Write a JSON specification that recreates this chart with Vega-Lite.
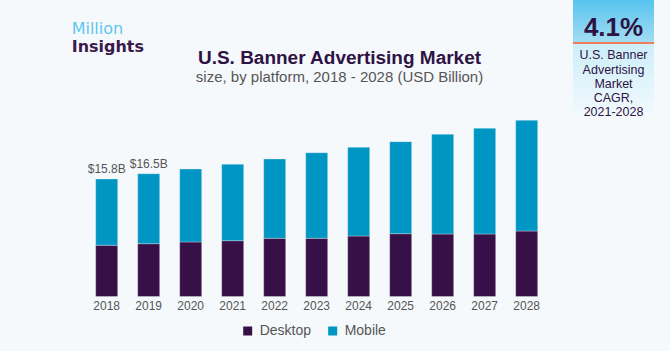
{
  "$schema": "https://vega.github.io/schema/vega-lite/v6.json",
  "background": "#f5f9fc",
  "autosize": {"type": "pad"},
  "padding": {"left": 71.7, "top": 0, "right": 16, "bottom": 14},
  "bounds": "flush",
  "spacing": 25.3,
  "title": {
    "text": "Million",
    "subtitle": "Insights",
    "anchor": "start",
    "frame": "group",
    "orient": "top",
    "offset": -55,
    "dx": -14,
    "font": "DejaVu Sans",
    "fontSize": 16,
    "fontWeight": "normal",
    "color": "#5ec6ee",
    "subtitleFont": "DejaVu Sans",
    "subtitleFontSize": 16,
    "subtitleFontWeight": "bold",
    "subtitleColor": "#3b1a4c",
    "subtitlePadding": 2
  },
  "datasets": {
    "bars": [
      {"year": "2018", "platform": "Desktop", "value": 6.88},
      {"year": "2018", "platform": "Mobile", "value": 8.92},
      {"year": "2019", "platform": "Desktop", "value": 7.10},
      {"year": "2019", "platform": "Mobile", "value": 9.40},
      {"year": "2020", "platform": "Desktop", "value": 7.33},
      {"year": "2020", "platform": "Mobile", "value": 9.81},
      {"year": "2021", "platform": "Desktop", "value": 7.50},
      {"year": "2021", "platform": "Mobile", "value": 10.27},
      {"year": "2022", "platform": "Desktop", "value": 7.82},
      {"year": "2022", "platform": "Mobile", "value": 10.66},
      {"year": "2023", "platform": "Desktop", "value": 7.82},
      {"year": "2023", "platform": "Mobile", "value": 11.51},
      {"year": "2024", "platform": "Desktop", "value": 8.13},
      {"year": "2024", "platform": "Mobile", "value": 11.92},
      {"year": "2025", "platform": "Desktop", "value": 8.44},
      {"year": "2025", "platform": "Mobile", "value": 12.37},
      {"year": "2026", "platform": "Desktop", "value": 8.40},
      {"year": "2026", "platform": "Mobile", "value": 13.40},
      {"year": "2027", "platform": "Desktop", "value": 8.40},
      {"year": "2027", "platform": "Mobile", "value": 14.21},
      {"year": "2028", "platform": "Desktop", "value": 8.80},
      {"year": "2028", "platform": "Mobile", "value": 14.88}
    ],
    "labels": [
      {"year": "2018", "total": 15.8, "label": "$15.8B"},
      {"year": "2019", "total": 16.5, "label": "$16.5B"}
    ],
    "box": [{"name": "cagr"}]
  },
  "hconcat": [
    {
      "width": 462,
      "height": 296.5,
      "title": {
        "text": "U.S. Banner Advertising Market",
        "subtitle": "size, by platform, 2018 - 2028 (USD Billion)",
        "anchor": "middle",
        "frame": "group",
        "offset": -85,
        "dx": 22.8,
        "font": "Liberation Sans",
        "fontSize": 19,
        "fontWeight": "bold",
        "color": "#2e1344",
        "subtitleFont": "Liberation Sans",
        "subtitleFontSize": 15,
        "subtitleColor": "#555555",
        "subtitlePadding": 2
      },
      "layer": [
        {
          "data": {"name": "bars"},
          "mark": {"type": "bar", "stroke": "#ffffff", "strokeOpacity": 0.3, "strokeWidth": 1},
          "encoding": {
            "x": {
              "field": "year",
              "type": "ordinal",
              "scale": {"paddingInner": 0.476, "paddingOuter": 0.238},
              "axis": {
                "title": null,
                "domain": false,
                "ticks": false,
                "labelAngle": 0,
                "labelFont": "Liberation Sans",
                "labelFontSize": 12,
                "labelColor": "#555555",
                "labelPadding": 4
              }
            },
            "y": {
              "field": "value",
              "type": "quantitative",
              "stack": "zero",
              "scale": {"domain": [0, 39.85], "nice": false},
              "axis": null
            },
            "order": {"field": "platform", "type": "ordinal", "sort": "ascending"},
            "color": {
              "field": "platform",
              "type": "nominal",
              "scale": {"domain": ["Desktop", "Mobile"], "range": ["#371047", "#0096c4"]},
              "legend": {
                "title": null,
                "orient": "none",
                "legendX": 155,
                "legendY": 324,
                "direction": "horizontal",
                "symbolType": "square",
                "symbolSize": 81,
                "symbolStrokeWidth": 0,
                "labelFont": "Liberation Sans",
                "labelFontSize": 14,
                "labelColor": "#555555",
                "columnPadding": 14,
                "labelOffset": 5,
                "padding": 0
              }
            }
          }
        },
        {
          "data": {"name": "labels"},
          "mark": {"type": "text", "dy": -6, "fontSize": 12, "font": "Liberation Sans", "color": "#555555", "baseline": "alphabetic"},
          "encoding": {
            "x": {"field": "year", "type": "ordinal"},
            "y": {"field": "total", "type": "quantitative"},
            "text": {"field": "label"}
          }
        }
      ]
    },
    {
      "width": 81,
      "height": 118,
      "data": {"name": "box"},
      "title": {
        "text": "4.1%",
        "subtitle": ["U.S. Banner", "Advertising", "Market", "CAGR,", "2021-2028"],
        "anchor": "middle",
        "frame": "group",
        "offset": -119,
        "font": "Liberation Sans",
        "fontSize": 26,
        "fontWeight": "bold",
        "color": "#2e1344",
        "subtitleFont": "Liberation Sans",
        "subtitleFontSize": 12.5,
        "subtitleColor": "#2e1344",
        "subtitleLineHeight": 14.3,
        "subtitlePadding": 8
      },
      "mark": {
        "type": "rect",
        "fill": {
          "gradient": "linear",
          "x1": 0, "y1": 0, "x2": 0, "y2": 1,
          "stops": [
            {"offset": 0, "color": "#56c4ee"},
            {"offset": 0.355, "color": "#a3dcf3"},
            {"offset": 0.355, "color": "#ee7d5e"},
            {"offset": 0.372, "color": "#ee7d5e"},
            {"offset": 0.372, "color": "#cdeefa"},
            {"offset": 1, "color": "#f3fafd"}
          ]
        }
      },
      "encoding": {}
    }
  ],
  "config": {"view": {"stroke": null}, "font": "Liberation Sans"}
}
